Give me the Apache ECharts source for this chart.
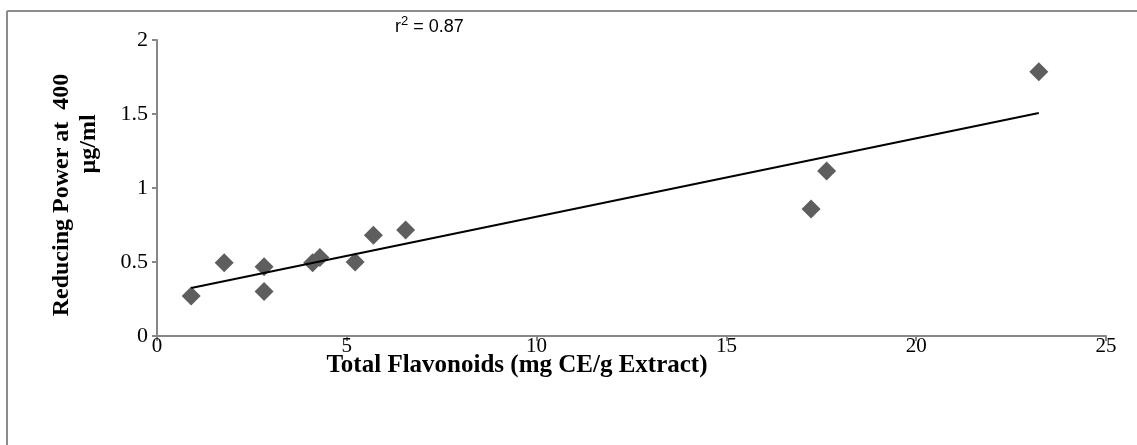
<!DOCTYPE html>
<html>
<head>
<meta charset="utf-8">
<script src="https://cdn.jsdelivr.net/npm/echarts@6/dist/echarts.min.js"></script>
<style>
html,body{margin:0;padding:0;background:#fff;}
#chart{width:1137px;height:445px;}
</style>
</head>
<body>
<div id="chart"></div>
<script>
// Data
const flavonoids = [0.90, 1.77, 2.82, 2.82, 4.10, 4.29, 5.22, 5.70, 6.55, 17.23, 17.64, 23.23];
const reducingPower = [0.27, 0.495, 0.468, 0.30, 0.495, 0.53, 0.50, 0.68, 0.716, 0.858, 1.115, 1.786];
const xTicks = [0, 5, 10, 15, 20, 25];
const yTicks = [0, 0.5, 1, 1.5, 2];
const xTitle = 'Total Flavonoids (mg CE/g Extract)';
const yTitleLine1 = 'Reducing Power at  400';
const yTitleLine2 = 'µg/ml';
const rLabelParts = ['r', '2', ' = 0.87'];

// least squares trend line from the data
const n = flavonoids.length;
const mx = flavonoids.reduce((a, b) => a + b, 0) / n;
const my = reducingPower.reduce((a, b) => a + b, 0) / n;
let sxy = 0, sxx = 0;
for (let i = 0; i < n; i++) { sxy += (flavonoids[i] - mx) * (reducingPower[i] - my); sxx += (flavonoids[i] - mx) ** 2; }
const slope = sxy / sxx, intercept = my - slope * mx;
const xmin = Math.min(...flavonoids), xmax = Math.max(...flavonoids);
const trend = [[xmin, intercept + slope * xmin], [xmax, intercept + slope * xmax]];

const points = flavonoids.map((x, i) => [x, reducingPower[i]]);

const chart = echarts.init(document.getElementById('chart'), null, {renderer: 'canvas'});
const axisColor = '#878787';
const serif = '"Liberation Serif", "Times New Roman", serif';
const sans = '"Liberation Sans", Arial, sans-serif';
chart.setOption({
  animation: false,
  backgroundColor: '#fff',
  grid: {left: 157, right: 31, top: 40, bottom: 109, containLabel: false},
  xAxis: {
    type: 'value', min: xTicks[0], max: xTicks[xTicks.length - 1], interval: 5,
    axisLine: {show: true, lineStyle: {color: axisColor, width: 2}},
    axisTick: {show: true, length: 5, lineStyle: {color: axisColor, width: 2}},
    splitLine: {show: false},
    axisLabel: {color: '#000', fontFamily: serif, fontSize: 21, margin: 0}
  },
  yAxis: {
    type: 'value', min: yTicks[0], max: yTicks[yTicks.length - 1], interval: 0.5,
    axisLine: {show: true, lineStyle: {color: axisColor, width: 2}},
    axisTick: {show: true, length: 5, lineStyle: {color: axisColor, width: 2}},
    splitLine: {show: false},
    axisLabel: {color: '#000', fontFamily: serif, fontSize: 22, margin: 9}
  },
  graphic: [
    {type: 'line', shape: {x1: 7, y1: 11, x2: 1137, y2: 11}, style: {stroke: '#8c8c8c', lineWidth: 2}},
    {type: 'line', shape: {x1: 7, y1: 11, x2: 7, y2: 445}, style: {stroke: '#8c8c8c', lineWidth: 2}},
    {type: 'text', x: 395, y: 15, style: {
      text: '{a|' + rLabelParts[0] + '}{b|' + rLabelParts[1] + '}{a|' + rLabelParts[2] + '}',
      rich: {
        a: {fontSize: 18, fontFamily: sans, fill: '#000', lineHeight: 21, verticalAlign: 'bottom'},
        b: {fontSize: 13, fontFamily: sans, fill: '#000', lineHeight: 21, verticalAlign: 'top'}
      }
    }},
    {type: 'text', x: 517, y: 366, style: {text: xTitle, fill: '#000', align: 'center', verticalAlign: 'middle', font: 'bold 25px ' + serif}},
    {type: 'text', x: 62, y: 195, rotation: Math.PI / 2, style: {text: yTitleLine1, fill: '#000', align: 'center', verticalAlign: 'middle', font: 'bold 24px ' + serif}},
    {type: 'text', x: 89, y: 144, rotation: Math.PI / 2, style: {text: yTitleLine2, fill: '#000', align: 'center', verticalAlign: 'middle', font: 'bold 24px ' + serif}}
  ],
  series: [
    {
      type: 'scatter', data: points, symbol: 'diamond', symbolSize: [19, 19],
      itemStyle: {color: '#5e5e5e', opacity: 1}, z: 3
    },
    {
      type: 'line', data: trend, symbol: 'none', showSymbol: false,
      lineStyle: {color: '#000', width: 2}, z: 4, silent: true
    }
  ]
});
</script>
</body>
</html>
